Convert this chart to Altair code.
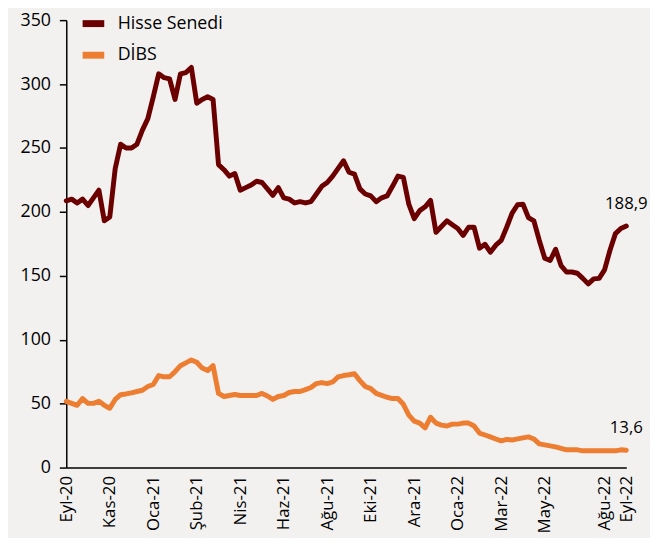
import altair as alt
import pandas as pd

series_names = ["Hisse Senedi", "DİBS"]

hisse = [208.7, 210, 207, 210, 205, 211, 217, 193, 196, 234,
         253, 250, 250, 253, 264, 273, 290, 308, 305, 304,
         288, 308, 309, 313, 285, 288, 290, 288, 237, 233,
         228, 230, 217, 219, 221, 224, 223, 218, 213, 219,
         211, 210, 207, 208, 207, 208, 214, 220, 223, 228,
         234, 240, 231, 229.5, 218, 214, 212.5, 208, 211, 212.5,
         220, 228, 227, 206, 194.7, 201, 204, 209, 184, 188.6,
         193, 190, 187, 181.6, 188, 188, 171.6, 174.7, 168.5, 174,
         177.7, 188, 199, 205.6, 206, 195.5, 193, 177.7, 163.8, 162,
         170.8, 158, 153, 153, 152, 148, 143.7, 147.6, 148, 154.6,
         170, 183, 187, 188.9]

dibs = [51.8, 50.2, 48.7, 54, 50.2, 50.2, 51.8, 48.7, 46.4, 53.3,
        57, 57.6, 58.5, 59.5, 60.5, 63.4, 65, 72, 71, 71,
        75, 79.7, 81.9, 84.2, 82.4, 77.8, 75.9, 79.7, 58, 55.6,
        56.4, 57.2, 56.4, 56.4, 56.4, 56.4, 58, 56, 53.3, 55.6,
        56.4, 58.7, 59.5, 59.5, 61, 62.6, 65.7, 66.5, 65.7, 67,
        71, 72, 72.6, 73.4, 68, 63.4, 61.8, 58, 56.5, 55,
        54, 54, 49.5, 41, 36.3, 34.8, 31, 39.4, 34.8, 33.2,
        32.5, 34, 34, 34.8, 34.8, 32.5, 27, 25.5, 24, 22.4,
        20.9, 22, 21.6, 22.4, 23.2, 24, 22.4, 18.5, 17.8, 17,
        16.2, 15, 13.9, 13.9, 13.9, 13.1, 13.1, 13.1, 13.1, 13.1,
        13.1, 13.1, 13.9, 13.6]

tick_idx = [0, 8, 16, 24, 32, 40, 48, 56, 64, 72, 80, 88, 99, 103]
tick_labels = ["Eyl-20", "Kas-20", "Oca-21", "Şub-21", "Nis-21", "Haz-21",
               "Ağu-21", "Eki-21", "Ara-21", "Oca-22", "Mar-22", "May-22",
               "Ağu-22", "Eyl-22"]
end_labels = ["188,9", "13,6"]

FONT = "Open Sans"
BG = "#F2F1EF"

rows = []
for name, vals in zip(series_names, [hisse, dibs]):
    for i, v in enumerate(vals):
        rows.append({"i": i, "v": v, "s": name})
df = pd.DataFrame(rows)

end_df = pd.DataFrame({
    "i": [len(hisse) - 1, len(dibs) - 1],
    "v": [hisse[-1], dibs[-1]],
    "t": end_labels,
})

expr = "''"
for k, lab in reversed(list(zip(tick_idx, tick_labels))):
    expr = f"datum.value == {k} ? '{lab}' : ({expr})"

x_enc = alt.X("i:Q",
              scale=alt.Scale(domain=[0, len(hisse) - 1], nice=False, zero=False),
              axis=alt.Axis(values=tick_idx, labelExpr=expr, labelAngle=-90,
                            labelAlign="right", labelBaseline="middle",
                            ticks=False, grid=False, title=None,
                            domainColor="black", domainWidth=1.5,
                            labelFontSize=17, labelColor="black",
                            labelPadding=8, labelFont=FONT))
y_enc = alt.Y("v:Q",
              scale=alt.Scale(domain=[0, 350], nice=False),
              axis=alt.Axis(values=list(range(0, 351, 50)), grid=False, title=None,
                            tickColor="black", tickSize=7, tickWidth=1.5,
                            domainColor="black", domainWidth=1.5,
                            labelFontSize=18, labelColor="black",
                            labelPadding=9, labelFont=FONT))

color = alt.Color("s:N",
                  scale=alt.Scale(domain=series_names, range=["#6B0000", "#ED7D31"]),
                  sort=series_names,
                  legend=alt.Legend(title=None, orient="none", legendX=13, legendY=-11,
                                    symbolType="stroke", symbolStrokeWidth=7,
                                    symbolSize=480, labelFontSize=18,
                                    labelFont=FONT, labelColor="black",
                                    labelOffset=10, rowPadding=3, padding=0))

lines = alt.Chart(df).mark_line(strokeWidth=5, strokeJoin="round", strokeCap="round").encode(
    x=x_enc, y=y_enc, color=color, detail="s:N")

texts = alt.Chart(end_df).mark_text(dy=-22, fontSize=17, font=FONT, color="black",
                                     align="center").encode(
    x=alt.X("i:Q"), y=alt.Y("v:Q"), text="t:N")

chart = (lines + texts).properties(
    width=567, height=453,
    autosize=alt.AutoSizeParams(type="none"),
    padding={"left": 59, "top": 9, "right": 24, "bottom": 68},
    background=BG,
).configure_view(stroke=None)

chart.save("out.html", embed_options={"renderer": "svg", "actions": False})
